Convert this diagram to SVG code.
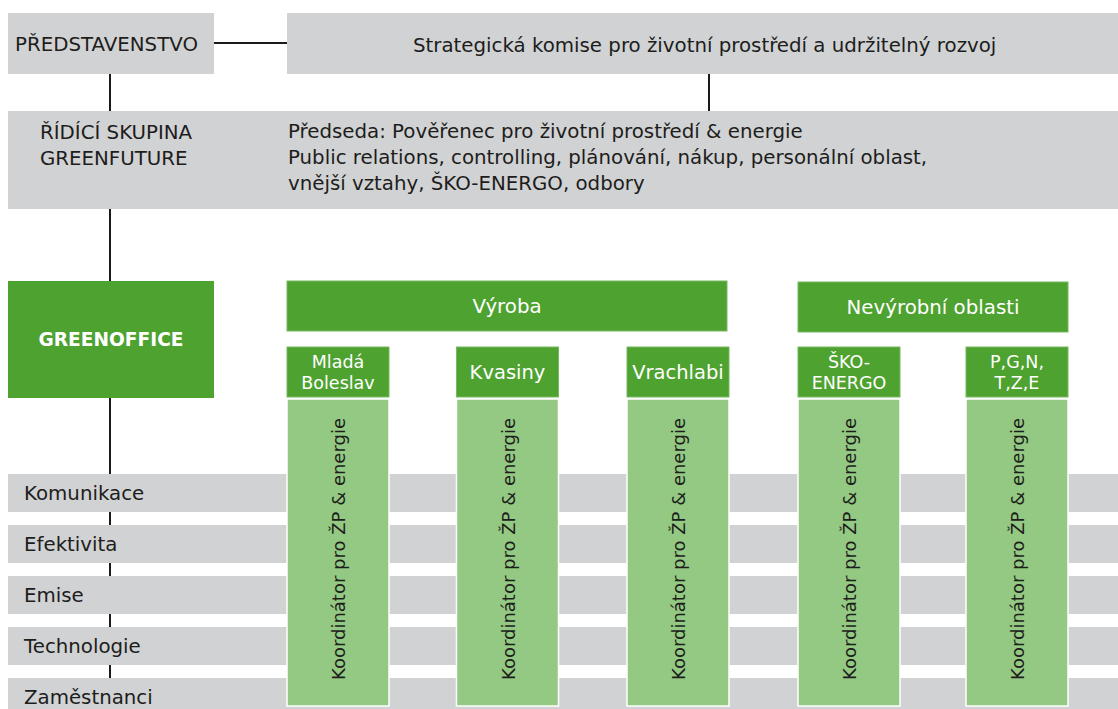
<svg xmlns="http://www.w3.org/2000/svg" width="1118" height="709" viewBox="0 0 1118 709">
<style>
.t{font-family:"DejaVu Sans","Liberation Sans",sans-serif;fill:#1d1d1b;font-size:19.8px}
.w{fill:#ffffff}
.m{text-anchor:middle}
.b{font-weight:bold;font-size:18.6px}
.h{font-size:19.5px}
.h2{font-size:17.5px}
.v{font-size:18px}
.gray{fill:#d1d2d4}
.dg{fill:#4ea22f}
.hd{fill:#4ea22f;stroke:#78b862;stroke-width:1}
.lg{fill:#93c982;stroke:#ffffff;stroke-width:1.5}
.line{stroke:#1a1a1a;stroke-width:2;fill:none}
</style>
<rect width="1118" height="709" fill="#ffffff"/>
<g id="connectors">
<path class="line" d="M214 43H287"/>
<path class="line" d="M110 74V111"/>
<path class="line" d="M709 74V111"/>
<path class="line" d="M110 209V281"/>
<path class="line" d="M110 398V709"/>
</g>
<g id="predstavenstvo">
<rect class="gray" x="8" y="13" width="206" height="61"/>
<text class="t" x="15" y="51">PŘEDSTAVENSTVO</text>
</g>
<g id="komise">
<rect class="gray" x="287" y="13" width="831" height="61"/>
<text class="t" x="413" y="52">Strategická komise pro životní prostředí a udržitelný rozvoj</text>
</g>
<g id="ridici-skupina">
<rect class="gray" x="8" y="111" width="1110" height="98"/>
<text class="t" x="40" y="139">ŘÍDÍCÍ SKUPINA</text>
<text class="t" x="40" y="165">GREENFUTURE</text>
<text class="t" x="288" y="138">Předseda: Pověřenec pro životní prostředí &amp; energie</text>
<text class="t" x="288" y="164">Public relations, controlling, plánování, nákup, personální oblast,</text>
<text class="t" x="288" y="190">vnější vztahy, ŠKO-ENERGO, odbory</text>
</g>
<g id="greenoffice">
<rect class="dg" x="8" y="281" width="206" height="117"/>
<text class="t w m b" x="111" y="346">GREENOFFICE</text>
</g>
<g id="vyroba">
<rect class="hd" x="287" y="281" width="440" height="50"/>
<text class="t w m" x="507" y="313">Výroba</text>
</g>
<g id="nevyrobni">
<rect class="hd" x="798" y="282" width="270" height="50"/>
<text class="t w m" x="933" y="314">Nevýrobní oblasti</text>
</g>
<g id="rows">
<rect class="gray" x="8" y="474" width="1110" height="38"/>
<rect class="gray" x="8" y="525" width="1110" height="38"/>
<rect class="gray" x="8" y="576" width="1110" height="38"/>
<rect class="gray" x="8" y="627" width="1110" height="38"/>
<rect class="gray" x="8" y="678" width="1110" height="38"/>
<text class="t" x="24" y="500">Komunikace</text>
<text class="t" x="24" y="551">Efektivita</text>
<text class="t" x="24" y="602">Emise</text>
<text class="t" x="24" y="653">Technologie</text>
<text class="t" x="24" y="704">Zaměstnanci</text>
</g>
<g id="mlada-boleslav">
<rect class="hd" x="287" y="347" width="102" height="50"/>
<text class="t w m h2" x="338" y="368">Mladá</text>
<text class="t w m h2" x="338" y="389">Boleslav</text>
<rect class="lg" x="287" y="399" width="102" height="307"/>
<text class="t m v" transform="translate(345 549) rotate(-90)">Koordinátor pro ŽP &amp; energie</text>
</g>
<g id="kvasiny">
<rect class="hd" x="456.5" y="347" width="102" height="50"/>
<text class="t w m h" x="507.5" y="379">Kvasiny</text>
<rect class="lg" x="456.5" y="399" width="102" height="307"/>
<text class="t m v" transform="translate(514.5 549) rotate(-90)">Koordinátor pro ŽP &amp; energie</text>
</g>
<g id="vrachlabi">
<rect class="hd" x="627" y="347" width="102" height="50"/>
<text class="t w m h" x="678" y="379">Vrachlabi</text>
<rect class="lg" x="627" y="399" width="102" height="307"/>
<text class="t m v" transform="translate(685 549) rotate(-90)">Koordinátor pro ŽP &amp; energie</text>
</g>
<g id="sko-energo">
<rect class="hd" x="798" y="347" width="102" height="50"/>
<text class="t w m h2" x="849" y="368">ŠKO-</text>
<text class="t w m h2" x="849" y="389">ENERGO</text>
<rect class="lg" x="798" y="399" width="102" height="307"/>
<text class="t m v" transform="translate(856 549) rotate(-90)">Koordinátor pro ŽP &amp; energie</text>
</g>
<g id="pgntze">
<rect class="hd" x="966" y="347" width="102" height="50"/>
<text class="t w m h2" x="1017" y="368">P,G,N,</text>
<text class="t w m h2" x="1017" y="389">T,Z,E</text>
<rect class="lg" x="966" y="399" width="102" height="307"/>
<text class="t m v" transform="translate(1024 549) rotate(-90)">Koordinátor pro ŽP &amp; energie</text>
</g>
</svg>
